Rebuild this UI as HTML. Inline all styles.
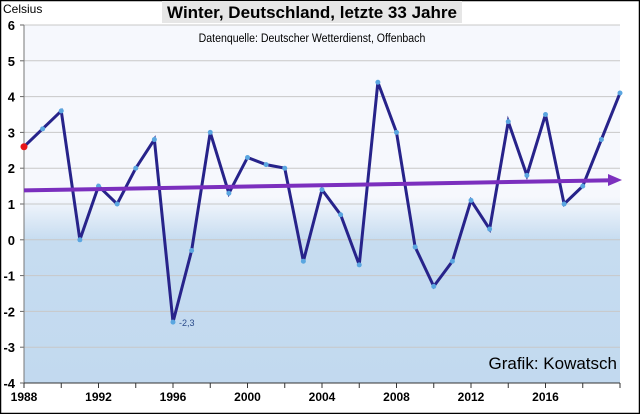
<!DOCTYPE html>
<html><head><meta charset="utf-8"><style>
html,body{margin:0;padding:0;background:#fff}
svg{display:block;font-family:"Liberation Sans",sans-serif}
</style></head><body>
<svg id="chart" width="640" height="414" viewBox="0 0 640 414">
<defs>
<linearGradient id="bg" x1="0" y1="0" x2="0" y2="1">
<stop offset="0" stop-color="#f6f8fd"/>
<stop offset="0.48" stop-color="#f6f8fd"/>
<stop offset="0.6" stop-color="#c6dcf0"/>
<stop offset="1" stop-color="#c2d9ef"/>
</linearGradient>
</defs>
<rect x="0.5" y="0.5" width="639" height="413" fill="#fff" stroke="#000" stroke-width="1.5"/>
<rect x="24" y="25" width="596" height="358" fill="url(#bg)"/>
<g id="grid"></g>
<g id="axes"></g>
<g id="series"></g>
<rect x="162" y="1" width="300" height="22" fill="#e6e6e6"/>
<text x="312" y="18" text-anchor="middle" font-size="17" font-weight="bold">Winter, Deutschland, letzte 33 Jahre</text>
<text x="312" y="42" text-anchor="middle" font-size="12" transform="translate(312,0) scale(0.88,1) translate(-312,0)">Datenquelle: Deutscher Wetterdienst, Offenbach</text>
<text x="3" y="13" font-size="12">Celsius</text>
<text x="617" y="369" text-anchor="end" font-size="17">Grafik: Kowatsch</text>
</svg>
<script>
const years=[1988,1989,1990,1991,1992,1993,1994,1995,1996,1997,1998,1999,2000,2001,2002,2003,2004,2005,2006,2007,2008,2009,2010,2011,2012,2013,2014,2015,2016,2017,2018,2019,2020];
const temps=[2.6,3.1,3.6,0.0,1.5,1.0,2.0,2.8,-2.3,-0.3,3.0,1.3,2.3,2.1,2.0,-0.6,1.4,0.7,-0.7,4.4,3.0,-0.2,-1.3,-0.6,1.1,0.3,3.3,1.8,3.5,1.0,1.5,2.8,4.1];
const trendStart=1.38, trendEnd=1.67;
const yTicks=[-4,-3,-2,-1,0,1,2,3,4,5,6];
const xLabels=[1988,1992,1996,2000,2004,2008,2012,2016];
const NS="http://www.w3.org/2000/svg";
const X0=24,X1=620,Y0=383,Y1=25;
const xs=y=>X0+(y-1988)/(2020-1988)*(X1-X0);
const ys=v=>Y0-(v+4)/10*(Y0-Y1);
function mk(tag,at,parent){const e=document.createElementNS(NS,tag);for(const k in at)e.setAttribute(k,at[k]);document.getElementById(parent).appendChild(e);return e;}
yTicks.forEach(v=>{
 if(v>-4){const g=mk('line',{x1:X0,x2:X1,y1:ys(v),y2:ys(v),stroke:'#c8c8c8','stroke-width':1},'grid');
 
 }
 const t=mk('text',{x:X0-9,y:ys(v)+5,'text-anchor':'end','font-size':13,'font-weight':'bold'},'axes');t.textContent=v;
 
 
 const tk=mk('line',{x1:X0-4,x2:X0,y1:ys(v),y2:ys(v),stroke:'#666'},'axes');
 
 
});
const ya=mk('line',{x1:X0,x2:X0,y1:Y1,y2:Y0,stroke:'#777'},'axes');


const xa=mk('line',{x1:X0,x2:X1,y1:Y0,y2:Y0,stroke:'#333'},'axes');


for(let y=1988;y<=2020;y+=2){const tk=mk('line',{x1:xs(y),x2:xs(y),y1:Y0,y2:Y0+5,stroke:'#333'},'axes');
 
 }
xLabels.forEach(y=>{const t=mk('text',{x:xs(y),y:Y0+18,'text-anchor':'middle','font-size':12,'font-weight':'bold'},'axes');t.textContent=y;
 
 });
const pts=years.map((y,i)=>xs(y)+','+ys(temps[i])).join(' ');
const pl=mk('polyline',{points:pts,fill:'none',stroke:'#27238a','stroke-width':3,'stroke-linejoin':'miter'},'series');


years.forEach((y,i)=>{const c=mk('circle',{cx:xs(y),cy:ys(temps[i]),r:i===0?3.5:2.5,fill:i===0?'#e8161a':'#5aa6e0'},'series');
 
 });
const mi=temps.indexOf(Math.min(...temps));
const lb=mk('text',{x:xs(years[mi])+6,y:ys(temps[mi])+4,'font-size':9,fill:'#2a4a8a'},'series');lb.textContent='-2,3';


const tx1=xs(1988),tx2=xs(2020)-6;
const tl=mk('line',{x1:tx1,y1:ys(trendStart),x2:tx2,y2:ys(trendEnd)+0.2,stroke:'#7b2fbe','stroke-width':4},'series');


const ah=mk('polygon',{points:`${xs(2020)+2},${ys(trendEnd)} ${tx2-6},${ys(trendEnd)-6} ${tx2-6},${ys(trendEnd)+6}`,fill:'#7b2fbe'},'series');


</script>
</body></html>
